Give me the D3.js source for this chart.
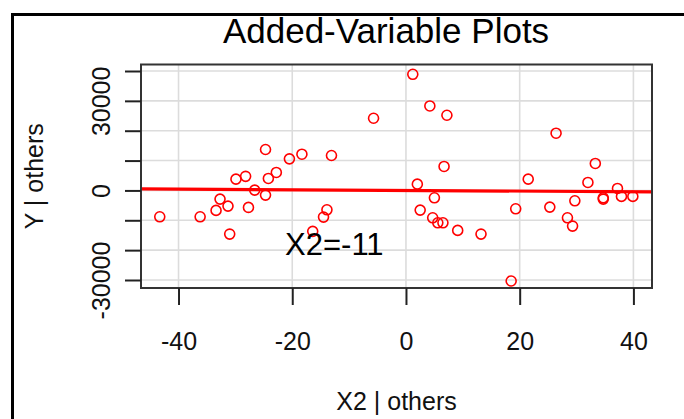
<!DOCTYPE html>
<html>
<head>
<meta charset="utf-8">
<script src="https://cdn.jsdelivr.net/npm/d3@7"></script>
<style>
  body { margin: 0; background: #fff; }
  text { font-family: "Liberation Sans", Arial, sans-serif; }
</style>
</head>
<body>
<script>
// residuals of X2 | others and Y | others
var xResid = [-43.3, -36.2, -33.4, -32.7, -31.3, -31.0, -29.9, -28.2, -27.7, -26.6,
              -24.7, -24.7, -24.2, -22.8, -20.5, -18.3, -16.4, -14.5, -13.9, -13.1,
              -5.7, 1.2, 2.0, 2.5, 4.2, 4.7, 5.0, 5.6, 6.5, 6.7,
              7.2, 9.1, 13.2, 18.5, 19.3, 21.5, 25.3, 26.4, 28.4, 29.3,
              29.7, 32.0, 33.3, 34.7, 34.7, 37.2, 37.9, 39.9];
var yResid = [-8830, -8830, -6690, -2910, -5250, -14620, 3780, 4720, -5690, 100,
              13710, -1570, 4010, 6020, 10570, 12140, -13710, -8930, -6490, 11700,
              24180, 38900, 2110, -6590, 28300, -9160, -2470, -10840, -10840, 8030,
              25180, -13380, -14620, -30330, -6150, 3780, -5590, 19160, -9160, -11940,
              -3480, 2680, 9030, -2470, -2900, 670, -2000, -2000];

var slope = -11;
var xTicks = [-40, -20, 0, 20, 40];
var yTicks = [-30000, -20000, -10000, 0, 10000, 20000, 30000, 40000];
var yLabels = [-30000, 0, 30000];

var W = 684, H = 419;
var margin = {top: 64.5, right: 32, bottom: 131, left: 141};
var width = W - margin.left - margin.right;
var height = H - margin.top - margin.bottom;

var svg = d3.select("body").append("svg")
  .attr("width", W)
  .attr("height", H);

// outer frame (runs off the right and bottom of the picture)
svg.append("rect")
  .attr("x", 12.5).attr("y", 14.5)
  .attr("width", 700).attr("height", 450)
  .attr("fill", "none")
  .attr("stroke", "#000")
  .attr("stroke-width", 3);

var g = svg.append("g").attr("transform", "translate(" + margin.left + "," + margin.top + ")");

var xScale = d3.scaleLinear().domain([-46.6, 43.27]).range([0, width]);
var yScale = d3.scaleLinear().domain([-32680, 42177]).range([height, 0]);

// grid
g.append("g").selectAll("line")
  .data(xTicks).enter().append("line")
  .attr("x1", function(d) { return xScale(d); })
  .attr("x2", function(d) { return xScale(d); })
  .attr("y1", 0).attr("y2", height)
  .attr("stroke", "#dcdcdc").attr("stroke-width", 1.6);
g.append("g").selectAll("line")
  .data(yTicks).enter().append("line")
  .attr("y1", function(d) { return yScale(d); })
  .attr("y2", function(d) { return yScale(d); })
  .attr("x1", 0).attr("x2", width)
  .attr("stroke", "#dcdcdc").attr("stroke-width", 1.6);

// regression line through the origin
g.append("line")
  .attr("x1", 0).attr("x2", width)
  .attr("y1", yScale(slope * xScale.domain()[0]))
  .attr("y2", yScale(slope * xScale.domain()[1]))
  .attr("stroke", "#ff0000")
  .attr("stroke-width", 3.2);

// points
g.append("g").selectAll("circle")
  .data(xResid).enter().append("circle")
  .attr("cx", function(d) { return xScale(d); })
  .attr("cy", function(d, i) { return yScale(yResid[i]); })
  .attr("r", 5)
  .attr("fill", "none")
  .attr("stroke", "#ff0000")
  .attr("stroke-width", 1.6);

// box
g.append("rect")
  .attr("width", width).attr("height", height)
  .attr("fill", "none")
  .attr("stroke", "#333")
  .attr("stroke-width", 2);

// x axis
var xAxis = g.append("g")
  .attr("transform", "translate(0," + height + ")")
  .call(d3.axisBottom(xScale).tickValues(xTicks).tickSize(17).tickFormat(d3.format("d")));
xAxis.select(".domain").remove();
xAxis.selectAll("line").attr("stroke", "#222").attr("stroke-width", 2);
xAxis.selectAll("text")
  .attr("y", 62).attr("dy", 0)
  .attr("fill", "#111")
  .attr("font-size", 25)
  .text(function(d) { return d < 0 ? "-" + Math.abs(d) : d; });

// y axis
var yAxis = g.append("g")
  .call(d3.axisLeft(yScale).tickValues(yTicks).tickSize(16)
    .tickFormat(function(d) { return yLabels.indexOf(d) >= 0 ? (d < 0 ? "-" + Math.abs(d) : d) : ""; }));
yAxis.select(".domain").remove();
yAxis.selectAll("line").attr("stroke", "#222").attr("stroke-width", 2);
yAxis.selectAll("text")
  .attr("x", 0).attr("dy", 0)
  .attr("transform", "translate(-31,0) rotate(-90)")
  .attr("text-anchor", "middle")
  .attr("fill", "#111")
  .attr("font-size", 25);

// title
svg.append("text")
  .attr("x", 386).attr("y", 43)
  .attr("text-anchor", "middle")
  .attr("font-size", 35)
  .attr("fill", "#000")
  .text("Added-Variable Plots");

// axis titles
svg.append("text")
  .attr("x", margin.left + width / 2).attr("y", 410)
  .attr("text-anchor", "middle")
  .attr("font-size", 25)
  .attr("fill", "#111")
  .text("X2 | others");

svg.append("text")
  .attr("transform", "translate(43," + (margin.top + height / 2) + ") rotate(-90)")
  .attr("text-anchor", "middle")
  .attr("font-size", 25)
  .attr("fill", "#111")
  .text("Y  | others");

// annotation
g.append("text")
  .attr("x", xScale(-12.6)).attr("y", 255 - margin.top)
  .attr("text-anchor", "middle")
  .attr("font-size", 31)
  .attr("fill", "#000")
  .text("X2=" + slope);
</script>
</body>
</html>
